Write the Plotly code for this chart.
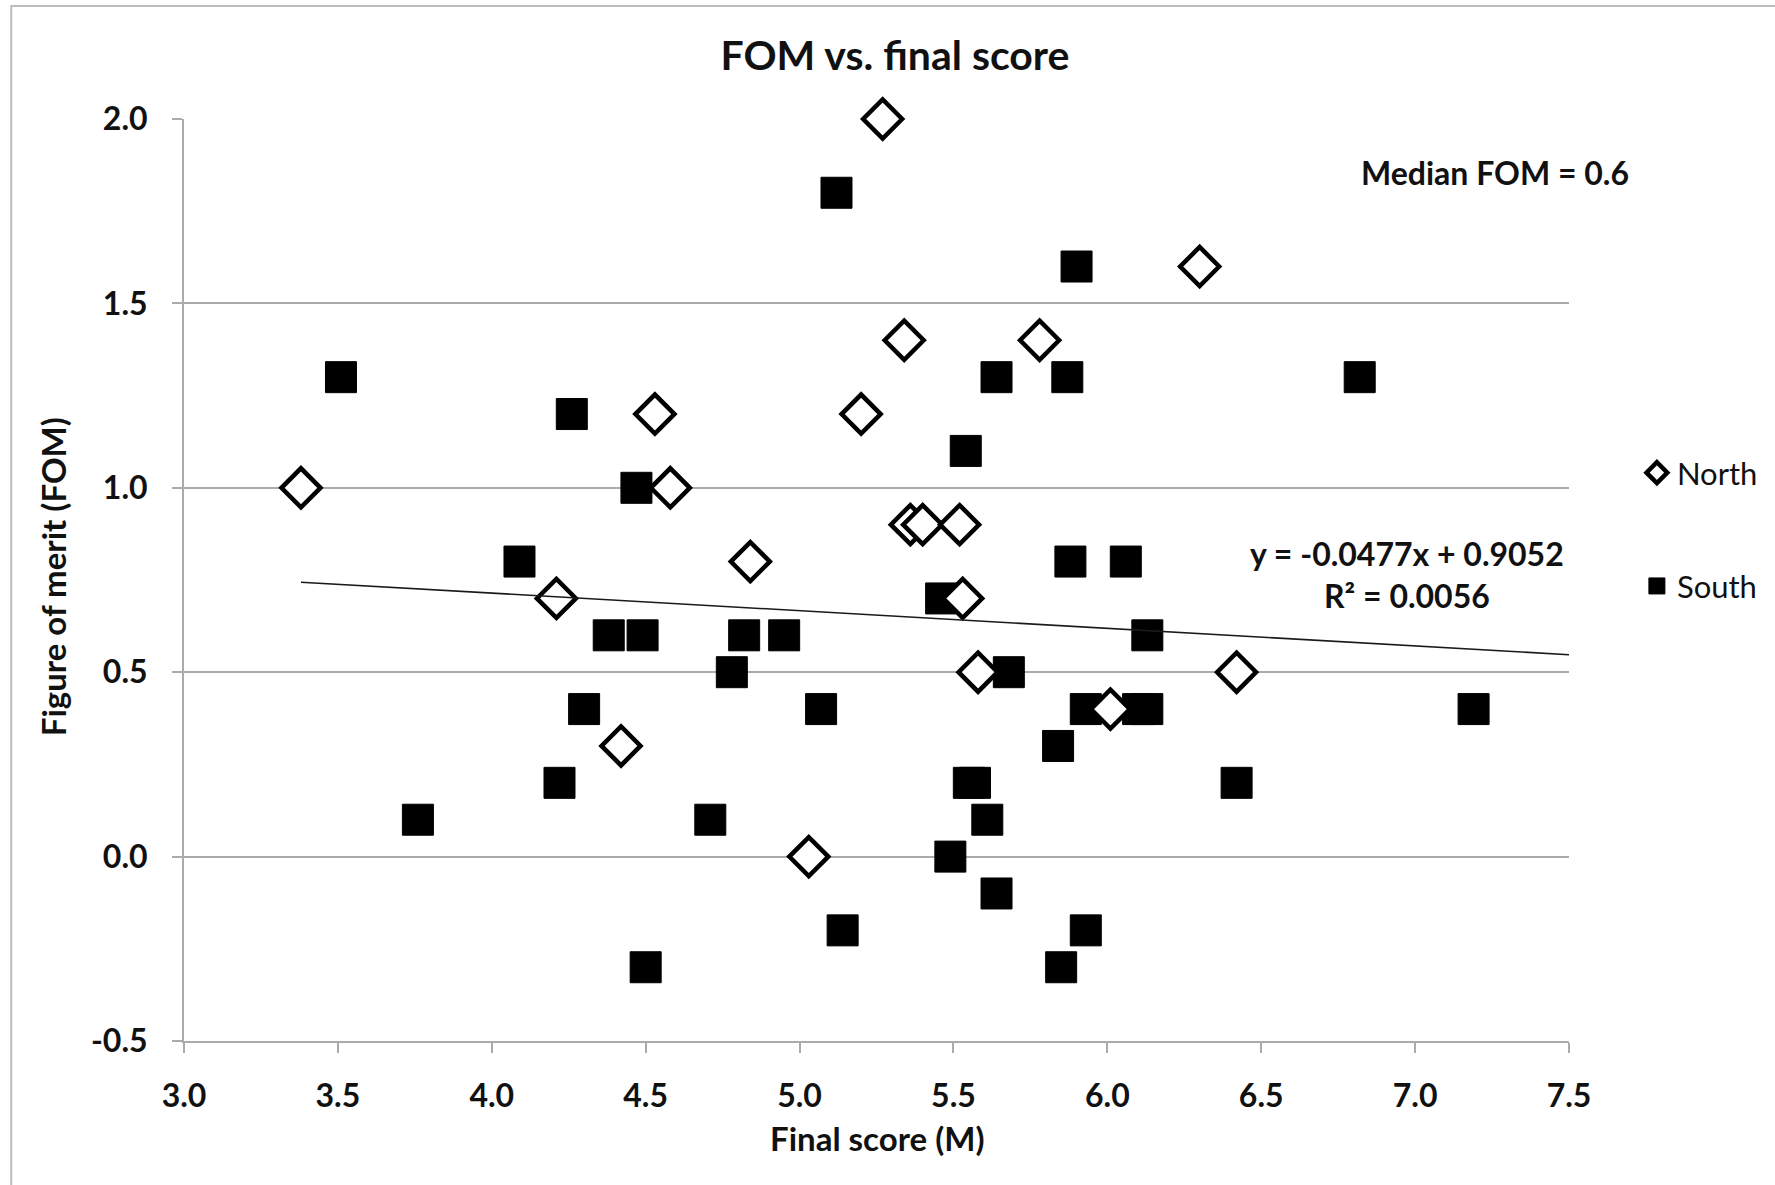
import plotly.graph_objects as go

# Final score (M) and figure of merit (FOM) per region
north_x = [5.27, 6.30, 5.34, 5.78, 4.53, 5.20, 3.38, 4.58, 5.36, 5.40, 5.52, 4.84,
           4.21, 5.53, 5.58, 6.42, 6.01, 4.42, 5.03]
north_y = [2.0, 1.6, 1.4, 1.4, 1.2, 1.2, 1.0, 1.0, 0.9, 0.9, 0.9, 0.8,
           0.7, 0.7, 0.5, 0.5, 0.4, 0.3, 0.0]

south_x = [5.12, 5.90, 3.51, 5.64, 5.87, 6.82, 4.26, 5.54, 4.47, 4.09, 5.88, 6.06,
           5.46, 4.38, 4.49, 4.82, 4.95, 6.13, 4.78, 5.68, 4.30, 5.07, 5.93, 6.10,
           6.13, 7.19, 5.84, 4.22, 5.55, 5.57, 6.42, 3.76, 4.71, 5.61, 5.49, 5.64,
           5.14, 5.93, 4.50, 5.85]
south_y = [1.8, 1.6, 1.3, 1.3, 1.3, 1.3, 1.2, 1.1, 1.0, 0.8, 0.8, 0.8,
           0.7, 0.6, 0.6, 0.6, 0.6, 0.6, 0.5, 0.5, 0.4, 0.4, 0.4, 0.4,
           0.4, 0.4, 0.3, 0.2, 0.2, 0.2, 0.2, 0.1, 0.1, 0.1, 0.0, -0.1,
           -0.2, -0.2, -0.3, -0.3]

# Linear trendline as reported on the chart
trend_slope = -0.0477
trend_intercept = 0.9052
trend_r2 = 0.0056
trend_x = [3.38, 7.5]
trend_y = [trend_slope * x + trend_intercept for x in trend_x]

median_fom = 0.6

x_ticks = [3.0, 3.5, 4.0, 4.5, 5.0, 5.5, 6.0, 6.5, 7.0, 7.5]
y_ticks = [-0.5, 0.0, 0.5, 1.0, 1.5, 2.0]
x_tick_text = [f"{v:.1f}" for v in x_ticks]
y_tick_text = [f"{v:.1f}" for v in y_ticks]

W, H = 1775, 1185
L, R, T, B = 184, 204, 119, 144
PW, PH = W - L - R, H - T - B


def px_x(p):
    return (p - L) / PW


def px_y(p):
    return 1 - (p - T) / PH


FONT = "Lato"
GRID = "#ABABAB"

fig = go.Figure()

fig.add_trace(go.Scatter(
    x=south_x, y=south_y, mode="markers", name="South",
    legendgroup="s", legendrank=2, cliponaxis=False,
    marker=dict(symbol="square", size=31, color="black",
                line=dict(color="black", width=1)),
))
fig.add_trace(go.Scatter(
    x=north_x, y=north_y, mode="markers", name="North",
    legendgroup="n", legendrank=1, cliponaxis=False,
    marker=dict(symbol="diamond", size=30, color="white",
                line=dict(color="black", width=4.5)),
))
fig.add_trace(go.Scatter(
    x=trend_x, y=trend_y, mode="lines", showlegend=False,
    line=dict(color="#1a1a1a", width=1.6),
))

tick_font = dict(family=FONT, size=32, color="#111111", weight="bold")

fig.update_layout(
    width=W, height=H,
    margin=dict(l=L, r=R, t=T, b=B),
    paper_bgcolor="white", plot_bgcolor="white",
    title=dict(text="FOM vs. final score", x=895 / W, xanchor="center",
               xref="container", y=1 - 56 / H, yanchor="middle", yref="container",
               font=dict(family=FONT, size=41, color="#111111", weight="bold")),
    showlegend=True,
    legend=dict(x=px_x(1639), xanchor="left", y=px_y(446), yanchor="top",
                traceorder="grouped", tracegroupgap=70,
                font=dict(family=FONT, size=31, color="#111111"),
                bgcolor="rgba(0,0,0,0)"),
    xaxis=dict(range=[3.0, 7.5], tickvals=x_ticks, ticktext=x_tick_text,
               showgrid=False, zeroline=False,
               showline=True, linecolor=GRID, linewidth=2,
               ticks="outside", ticklen=10, tickwidth=2, tickcolor=GRID,
               ticklabelstandoff=16, tickfont=tick_font),
    yaxis=dict(range=[-0.5, 2.0], tickvals=y_ticks, ticktext=y_tick_text,
               showgrid=True, gridcolor=GRID, gridwidth=2, zeroline=False,
               showline=True, linecolor=GRID, linewidth=2,
               ticks="outside", ticklen=10, tickwidth=2, tickcolor=GRID,
               ticklabelstandoff=18, tickfont=tick_font),
)

label_font = dict(family=FONT, size=33, color="#111111", weight="bold")
fig.add_annotation(text="Final score (M)", xref="paper", yref="paper",
                   x=px_x(878), y=px_y(1138), showarrow=False,
                   xanchor="center", yanchor="middle", font=label_font)
fig.add_annotation(text="Figure of merit (FOM)", xref="paper", yref="paper",
                   x=px_x(53), y=px_y(577), showarrow=False, textangle=-90,
                   xanchor="center", yanchor="middle", font=label_font)

note_font = dict(family=FONT, size=32, color="#111111", weight="bold")
fig.add_annotation(text=f"Median FOM = {median_fom}", xref="paper", yref="paper",
                   x=px_x(1497), y=px_y(173), showarrow=False,
                   xanchor="center", yanchor="middle", font=note_font)
fig.add_annotation(text=f"y = {trend_slope}x + {trend_intercept}", xref="paper", yref="paper",
                   x=px_x(1409), y=px_y(553), showarrow=False,
                   xanchor="center", yanchor="middle", font=note_font)
fig.add_annotation(text=f"R² = {trend_r2}", xref="paper", yref="paper",
                   x=px_x(1409), y=px_y(595), showarrow=False,
                   xanchor="center", yanchor="middle", font=note_font)

# Outer chart frame
fig.add_shape(type="rect", xref="paper", yref="paper",
              x0=px_x(11), x1=px_x(W + 20), y0=px_y(H + 20), y1=px_y(6),
              line=dict(color="#BDBDBD", width=2), fillcolor="rgba(0,0,0,0)",
              layer="below")

fig.write_html("out.html")
